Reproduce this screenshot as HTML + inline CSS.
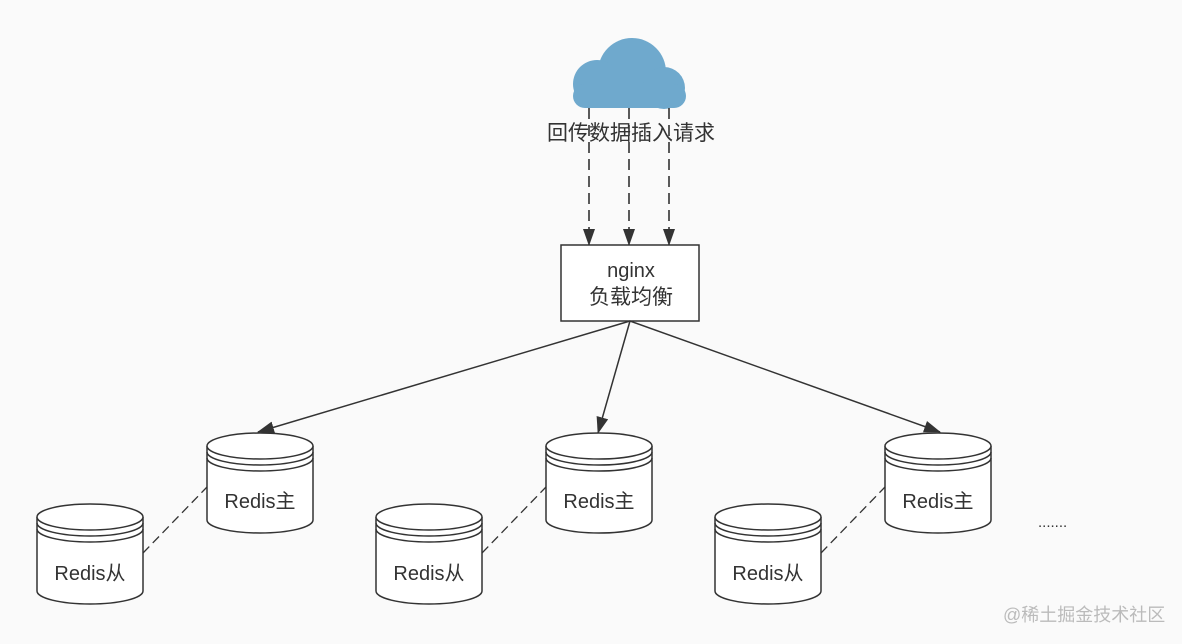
<!DOCTYPE html>
<html><head><meta charset="utf-8"><style>
html,body{margin:0;padding:0;background:#fafafa;}
svg{display:block;font-family:"Liberation Sans","Noto Sans CJK SC",sans-serif;}
</style></head><body>
<svg width="1182" height="644" viewBox="0 0 1182 644" xmlns="http://www.w3.org/2000/svg">
<defs>
<marker id="ah" markerWidth="17" markerHeight="13" refX="16" refY="6.5" orient="auto" markerUnits="userSpaceOnUse">
<path d="M0,0.5 L17,6.5 L0,12.5 Z" fill="#333"/>
</marker>
<g id="cyl">
<path d="M0,13 L0,87 A53,13 0 0 0 106,87 L106,13" fill="#fff" stroke="#333" stroke-width="1.5"/>
<ellipse cx="53" cy="13" rx="53" ry="13" fill="#fff" stroke="#333" stroke-width="1.5"/>
<path d="M0,19 A53,13 0 0 0 106,19" fill="none" stroke="#333" stroke-width="1.5"/>
<path d="M0,25 A53,13 0 0 0 106,25" fill="none" stroke="#333" stroke-width="1.5"/>
</g>
</defs>
<rect width="1182" height="644" fill="#fafafa"/>
<!-- cloud -->
<g fill="#6fa9cd">
<circle cx="632" cy="72" r="34"/>
<circle cx="597" cy="84" r="24"/>
<circle cx="664" cy="88" r="21"/>
<rect x="573" y="84" width="113" height="24" rx="12"/>
</g>
<!-- dashed arrows -->
<g stroke="#333" stroke-width="1.6" stroke-dasharray="11,6" fill="none">
<line x1="589" y1="108" x2="589" y2="245" marker-end="url(#ah)"/>
<line x1="629" y1="108" x2="629" y2="245" marker-end="url(#ah)"/>
<line x1="669" y1="108" x2="669" y2="245" marker-end="url(#ah)"/>
</g>
<text x="631" y="140" font-size="21" fill="#333" text-anchor="middle">回传数据插入请求</text>
<!-- nginx box -->
<rect x="561" y="245" width="138" height="76" fill="#fff" stroke="#333" stroke-width="1.5"/>
<text x="631" y="277" font-size="20" fill="#333" text-anchor="middle">nginx</text>
<text x="631" y="304" font-size="21" fill="#333" text-anchor="middle">负载均衡</text>
<!-- solid arrows -->
<g stroke="#333" stroke-width="1.5" fill="none">
<line x1="630" y1="321" x2="258" y2="432" marker-end="url(#ah)"/>
<line x1="630" y1="321" x2="598" y2="433" marker-end="url(#ah)"/>
<line x1="630" y1="321" x2="940" y2="432" marker-end="url(#ah)"/>
</g>
<!-- dashed master-slave -->
<g stroke="#333" stroke-width="1.3" stroke-dasharray="9,5">
<line x1="143" y1="553" x2="207" y2="487"/>
<line x1="482" y1="553" x2="546" y2="487"/>
<line x1="821" y1="553" x2="885" y2="487"/>
</g>
<!-- cylinders -->
<use href="#cyl" x="207" y="433"/>
<use href="#cyl" x="546" y="433"/>
<use href="#cyl" x="885" y="433"/>
<use href="#cyl" x="37" y="504"/>
<use href="#cyl" x="376" y="504"/>
<use href="#cyl" x="715" y="504"/>
<g font-size="20" fill="#333" text-anchor="middle">
<text x="260" y="508">Redis主</text>
<text x="599" y="508">Redis主</text>
<text x="938" y="508">Redis主</text>
<text x="90" y="580">Redis从</text>
<text x="429" y="580">Redis从</text>
<text x="768" y="580">Redis从</text>
</g>
<text x="1038" y="527" font-size="15" fill="#333">.......</text>
<text x="1003" y="621" font-size="18" fill="#bbb">@稀土掘金技术社区</text>
</svg>
</body></html>
